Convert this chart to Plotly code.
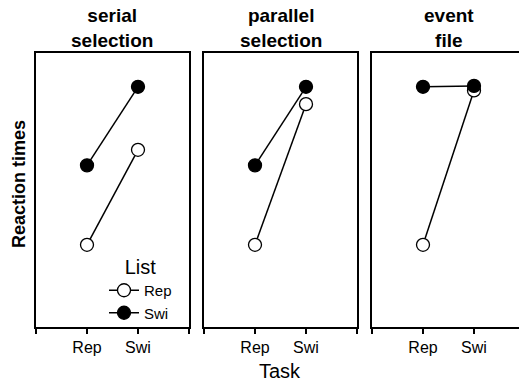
import plotly.graph_objects as go

panel_titles = ["serial<br>selection", "parallel<br>selection", "event<br>file"]
task_labels = ["Rep", "Swi"]
task_x = [1, 2]
# Reaction times (arbitrary ms units) per panel, List = Rep (open) and Swi (filled)
rep_list = [[590, 694], [590, 744], [590, 759]]
swi_list = [[677, 763], [677, 763], [763, 764]]

W, H = 519, 381
fig = go.Figure()

y_dom = [1 - 327 / H, 1 - 53 / H]
x_doms = [[36 / W, 189 / W], [204 / W, 357 / W], [372 / W, 1.0]]
x_ranges = [[0, 3], [0, 3], [0, (W - 372) / 51.0]]

for i in range(3):
    xa = "x" if i == 0 else f"x{i+1}"
    ya = "y" if i == 0 else f"y{i+1}"
    fig.add_trace(go.Scatter(
        x=task_x, y=rep_list[i], xaxis=xa, yaxis=ya, mode="lines+markers",
        name="Rep", legendgroup="Rep", showlegend=(i == 0),
        line=dict(color="black", width=1.5),
        marker=dict(symbol="circle", size=13, color="white", line=dict(color="black", width=1.3)),
    ))
    fig.add_trace(go.Scatter(
        x=task_x, y=swi_list[i], xaxis=xa, yaxis=ya, mode="lines+markers",
        name="Swi", legendgroup="Swi", showlegend=(i == 0),
        line=dict(color="black", width=1.5),
        marker=dict(symbol="circle", size=13, color="black", line=dict(color="black", width=1.3)),
    ))

layout = dict(
    width=W, height=H, margin=dict(l=0, r=0, t=0, b=0),
    paper_bgcolor="white", plot_bgcolor="white",
    font=dict(family="Arial, Liberation Sans, sans-serif", color="black"),
    showlegend=True,
    legend=dict(
        x=104 / W, y=1 - 248 / H, xanchor="left", yanchor="top",
        bgcolor="rgba(0,0,0,0)", font=dict(size=15),
        title=dict(text="List", font=dict(size=20), side="top center"),
        itemwidth=30, tracegroupgap=0,
    ),
)
for i in range(3):
    sfx = "" if i == 0 else str(i + 1)
    layout["xaxis" + sfx] = dict(
        domain=x_doms[i], range=x_ranges[i], anchor="y" + sfx,
        tickvals=[0, 1, 2, 3], ticktext=["", task_labels[0], task_labels[1], ""],
        ticks="outside", ticklen=5, tickwidth=2, tickcolor="black",
        showline=True, linecolor="black", linewidth=2, mirror=True,
        showgrid=False, zeroline=False, tickfont=dict(size=16), fixedrange=True,
    )
    layout["yaxis" + sfx] = dict(
        domain=y_dom, range=[500, 800], anchor="x" + sfx,
        showticklabels=False, ticks="",
        showline=True, linecolor="black", linewidth=2, mirror=(i < 2),
        showgrid=False, zeroline=False, fixedrange=True,
    )
    # overlay axis for inward half of crossing ticks
    layout["xaxis" + str(i + 4)] = dict(
        domain=x_doms[i], range=x_ranges[i], anchor="y" + sfx, overlaying="x" + sfx,
        tickvals=[0, 1, 2, 3], ticks="inside", ticklen=5, tickwidth=2, tickcolor="black",
        showticklabels=False, showline=False, showgrid=False, zeroline=False,
    )
fig.update_layout(**layout)

annotations = []
for i in range(3):
    cx = (x_doms[i][0] + (x_doms[i][0] + 153 / W)) / 2
    annotations.append(dict(
        text="<b>" + panel_titles[i] + "</b>", x=cx, y=1 - 53 / H,
        xref="paper", yref="paper", xanchor="center", yanchor="bottom",
        showarrow=False, font=dict(size=19), align="center",
    ))
annotations.append(dict(text="<b>Reaction times</b>", x=19 / W, y=1 - 184 / H,
                        xref="paper", yref="paper", xanchor="center", yanchor="middle",
                        textangle=-90, showarrow=False, font=dict(size=18)))
annotations.append(dict(text="Task", x=280 / W, y=1 - 371 / H,
                        xref="paper", yref="paper", xanchor="center", yanchor="middle",
                        showarrow=False, font=dict(size=20)))
fig.update_layout(annotations=annotations)

fig.write_html("out.html")
